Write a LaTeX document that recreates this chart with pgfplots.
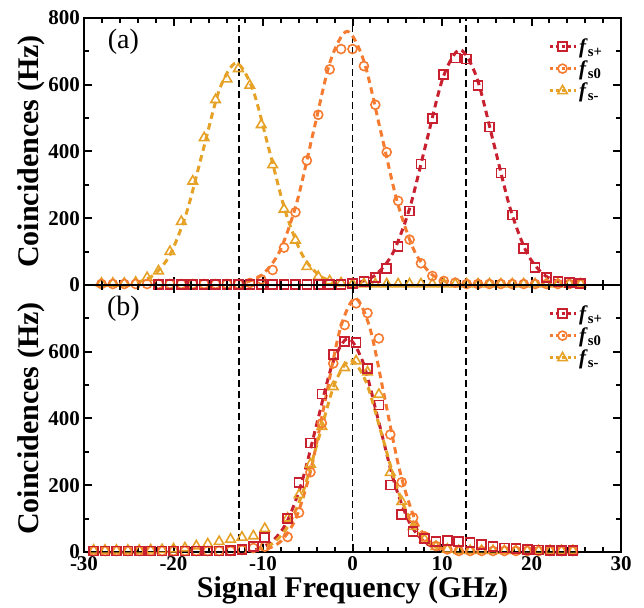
\documentclass[border=0pt]{standalone}
\usepackage{fontspec}
\setmainfont{Liberation Serif}
\usepackage{pgfplots}
\pgfplotsset{compat=1.18}
\definecolor{cplus}{HTML}{C8202F}
\definecolor{czero}{HTML}{F47B30}
\definecolor{cminus}{HTML}{E6A227}

\pgfplotsset{
  panel/.style={
    width=537pt, height=267pt, scale only axis,
    xmin=-30, xmax=30, ymin=0, ymax=800,
    xtick={-30,-20,...,30}, minor x tick num=4,
    ytick={0,200,...,800}, minor y tick num=1,
    tick align=inside,
    major tick length=8pt, minor tick length=5pt,
    axis line style={line width=2.4pt},
    every tick/.style={black, line width=2pt},
    xticklabel style={font=\fontsize{21}{24}\selectfont\bfseries, inner sep=0pt, yshift=-4pt},
    yticklabel style={font=\fontsize{21}{24}\selectfont\bfseries, inner sep=0pt, xshift=-4pt},
    label style={font=\fontsize{30}{36}\selectfont\bfseries},
    /pgf/number format/assume math mode=true,
    ylabel={Coincidences (Hz)},
    legend style={draw=none, fill=none, at={(0.975,0.94)}, anchor=north east,
      font=\fontsize{21}{24}\selectfont\bfseries, row sep=2pt},
    legend cell align=left,
    legend image code/.code={\draw[mark repeat=2, mark phase=2]
      plot coordinates {(0pt,0pt) (13pt,0pt) (26pt,0pt)};},
  },
  fit/.style={smooth, no markers, line width=3pt, dash pattern=on 6.5pt off 4.5pt, forget plot},
  pts/.style={only marks, line width=1.6pt, forget plot},
  vline/.style={black, line width=1.9pt, dash pattern=on 7pt off 4pt, forget plot},
  leg/.style={line width=3pt, dash pattern=on 3.5pt off 2.5pt, mark options={solid, line width=1.6pt, fill=white}},
}

\begin{document}
\begin{tikzpicture}
% ---------- (a) ----------
\begin{axis}[panel, name=top, xticklabels={}]
  \addplot[vline] coordinates {(-12.7,0) (-12.7,800)};
  \addplot[vline] coordinates {(0,0) (0,800)};
  \addplot[vline] coordinates {(12.7,0) (12.7,800)};
  % fitted curves
  \addplot[fit, cminus] coordinates {(-24.1,7.4) (-22.25,29.2) (-20.4,90.0) (-18.55,215.9) (-16.7,403.3) (-14.85,586.9) (-13.0,665) (-11.15,586.9) (-9.3,403.3) (-7.45,215.9) (-5.6,90.0) (-3.75,29.2) (-1.9,7.4)};
  \addplot[fit, czero] coordinates {(-11.85,8.4) (-9.975,33.4) (-8.1,102.8) (-6.225,246.8) (-4.35,460.9) (-2.475,670.7) (-0.6,760) (1.275,670.7) (3.15,460.9) (5.025,246.8) (6.9,102.8) (8.775,33.4) (10.65,8.4)};
  \addplot[fit, cplus] coordinates {(0.75,7.8) (2.625,31.0) (4.5,95.4) (6.375,228.9) (8.25,427.6) (10.125,622.2) (12.0,705) (13.875,622.2) (15.75,427.6) (17.625,228.9) (19.5,95.4) (21.375,31.0) (23.25,7.8)};
  % data
  \addplot[pts, cminus, mark=triangle, mark size=5.5pt] coordinates {
    (-28.05,5) (-26.775,5) (-25.5,5) (-24.225,8) (-22.95,22) (-21.675,42) (-20.4,100)
    (-19.125,190) (-17.85,311) (-16.575,441) (-15.3,555) (-14.025,617) (-12.75,648)
    (-11.475,598) (-10.2,480) (-8.925,360) (-7.65,227) (-6.375,134) (-5.1,55)
    (-3.825,25) (-2.55,12) (-1.275,6) (0,3) (1.275,3) (2.55,3) (3.825,3) (5.1,3)
    (6.375,3) (7.65,3) (8.925,3) (10.2,3) (11.475,3) (12.75,3) (14.025,3) (15.3,3)
    (16.575,3) (17.85,3) (19.125,3) (20.4,3) (21.675,3) (22.95,3) (24.225,3) (25.5,3)};
  \addplot[pts, czero, mark=o, mark size=4.5pt] coordinates {
    (-28.05,3) (-26.775,3) (-25.5,3) (-24.225,3) (-22.95,3) (-21.675,3) (-20.4,3)
    (-19.125,3) (-17.85,3) (-16.575,3) (-15.3,3) (-14.025,3) (-12.75,3)
    (-11.475,6) (-10.2,17) (-8.925,45) (-7.65,112) (-6.375,218) (-5.1,373)
    (-3.825,510) (-2.55,646) (-1.275,707) (0,707) (1.275,656) (2.55,540) (3.825,398)
    (5.1,252) (6.375,136) (7.65,65) (8.925,27) (10.2,12) (11.475,7) (12.75,3)
    (14.025,3) (15.3,3) (16.575,3) (17.85,3) (19.125,3) (20.4,3) (21.675,3) (22.95,3)
    (24.225,3) (25.5,3)};
  \addplot[pts, cplus, mark=square, mark size=4.5pt] coordinates {
    (-21.675,2) (-20.4,2) (-19.125,2) (-17.85,2) (-16.575,2) (-15.3,2) (-14.025,2)
    (-12.75,2) (-11.475,2) (-10.2,2) (-8.925,2) (-7.65,2) (-6.375,2) (-5.1,2)
    (-3.825,2) (-2.55,2) (-1.275,2) (0,5) (1.275,10) (2.55,22) (3.825,49) (5.1,115)
    (6.375,222) (7.65,362) (8.925,498) (10.2,630) (11.475,680) (12.75,677)
    (14.025,598) (15.3,473) (16.575,336) (17.85,210) (19.125,110) (20.4,53)
    (21.675,23) (22.95,10) (24.225,7) (25.5,5)};
  \node[font=\fontsize{28}{32}\selectfont] at (axis cs:-25.6,728) {(a)};
  \addlegendimage{cplus, leg, mark=square, mark size=4.5pt}
  \addlegendentry{\textit{f}\textsubscript{s+}}
  \addlegendimage{czero, leg, mark=o, mark size=4.5pt}
  \addlegendentry{\textit{f}\textsubscript{s0}}
  \addlegendimage{cminus, leg, mark=triangle, mark size=5.5pt}
  \addlegendentry{\textit{f}\textsubscript{s-}}
\end{axis}
% ---------- (b) ----------
\begin{axis}[panel, name=bot, at={(top.south west)}, anchor=north west,
    yticklabels={0,200,400,600,},
    xlabel={Signal Frequency (GHz)},
    xlabel style={yshift=-3pt}]
  \addplot[vline] coordinates {(-12.7,0) (-12.7,800)};
  \addplot[vline] coordinates {(0,0) (0,800)};
  \addplot[vline] coordinates {(12.7,0) (12.7,800)};
  % fitted curves
  \addplot[fit, cplus] coordinates {(-10.85,7.1) (-9.125,28.1) (-7.4,86.6) (-5.675,207.8) (-3.95,388.2) (-2.225,564.8) (-0.5,640) (1.225,564.8) (2.95,388.2) (4.675,207.8) (6.4,86.6) (8.125,28.1) (9.85,7.1)};
  \addplot[fit, czero] coordinates {(-9.6,8.4) (-7.95,33.4) (-6.3,102.8) (-4.65,246.8) (-3.0,460.9) (-1.35,670.7) (0.3,760) (1.95,670.7) (3.6,460.9) (5.25,246.8) (6.9,102.8) (8.55,33.4) (10.2,8.4)};
  \addplot[fit, cminus] coordinates {(-10.7,6.4) (-8.95,25.2) (-7.2,77.8) (-5.45,186.7) (-3.7,348.7) (-1.95,507.4) (-0.2,575) (1.55,507.4) (3.3,348.7) (5.05,186.7) (6.8,77.8) (8.55,25.2) (10.3,6.4)};
  % data
  \addplot[pts, cminus, mark=triangle, mark size=5.5pt] coordinates {
    (-28.925,5) (-27.65,5) (-26.375,5) (-25.1,5) (-23.825,5) (-22.55,6) (-21.275,7)
    (-20.0,9) (-18.725,12) (-17.45,18) (-16.175,24) (-14.9,31) (-13.625,38)
    (-12.35,44) (-11.075,48) (-9.8,70) (-7.25,101) (-5.975,171) (-4.7,263)
    (-3.425,376) (-2.15,495) (-0.875,552) (0.4,572) (1.675,539) (2.95,472)
    (4.225,238) (5.5,151) (6.775,76) (8.05,38) (9.325,16) (10.6,8) (11.875,4)
    (13.15,4) (14.425,4) (15.7,4) (16.975,4) (18.25,4) (19.525,4) (20.8,4)
    (22.075,4) (23.35,4) (24.625,4)};
  \addplot[pts, czero, mark=o, mark size=4.5pt] coordinates {
    (-28.925,3) (-27.65,3) (-26.375,3) (-25.1,3) (-23.825,3) (-22.55,3) (-21.275,3)
    (-20.0,3) (-18.725,3) (-17.45,3) (-16.175,3) (-14.9,3) (-13.625,3)
    (-12.35,6) (-11.075,12) (-9.8,16) (-7.25,45) (-5.975,118) (-4.7,239)
    (-3.425,386) (-2.15,565) (-0.875,680) (0.4,745) (1.675,716) (2.95,640)
    (4.225,352) (5.5,209) (6.775,103) (8.05,47) (9.325,18) (10.6,8) (11.875,3)
    (13.15,3) (14.425,3) (15.7,3) (16.975,3) (18.25,3) (19.525,3) (20.8,3)
    (22.075,3) (23.35,3) (24.625,3)};
  \addplot[pts, cplus, mark=square, mark size=4.5pt] coordinates {
    (-28.925,3) (-27.65,3) (-26.375,3) (-25.1,3) (-23.825,3) (-22.55,3) (-21.275,3)
    (-20.0,3) (-18.725,3) (-17.45,3) (-16.175,3) (-14.9,3) (-13.625,5)
    (-12.35,8) (-11.075,16) (-9.8,44) (-7.25,101) (-5.975,208) (-4.7,326)
    (-3.425,473) (-2.15,591) (-0.875,630) (0.4,627) (1.675,550) (2.95,441)
    (4.225,201) (5.5,113) (6.775,61) (8.05,41) (9.325,31) (10.6,34) (11.875,32)
    (13.15,28) (14.425,23) (15.7,16) (16.975,12) (18.25,10) (19.525,8) (20.8,6)
    (22.075,5) (23.35,5) (24.625,5)};
  \node[font=\fontsize{28}{32}\selectfont] at (axis cs:-25.6,728) {(b)};
  \addlegendimage{cplus, leg, mark=square, mark size=4.5pt}
  \addlegendentry{\textit{f}\textsubscript{s+}}
  \addlegendimage{czero, leg, mark=o, mark size=4.5pt}
  \addlegendentry{\textit{f}\textsubscript{s0}}
  \addlegendimage{cminus, leg, mark=triangle, mark size=5.5pt}
  \addlegendentry{\textit{f}\textsubscript{s-}}
\end{axis}
% page margins as in the reference
\path (top.north west) ++(-84pt,18pt);
\path (top.north east) ++(23pt,0pt);
\end{tikzpicture}
\end{document}
